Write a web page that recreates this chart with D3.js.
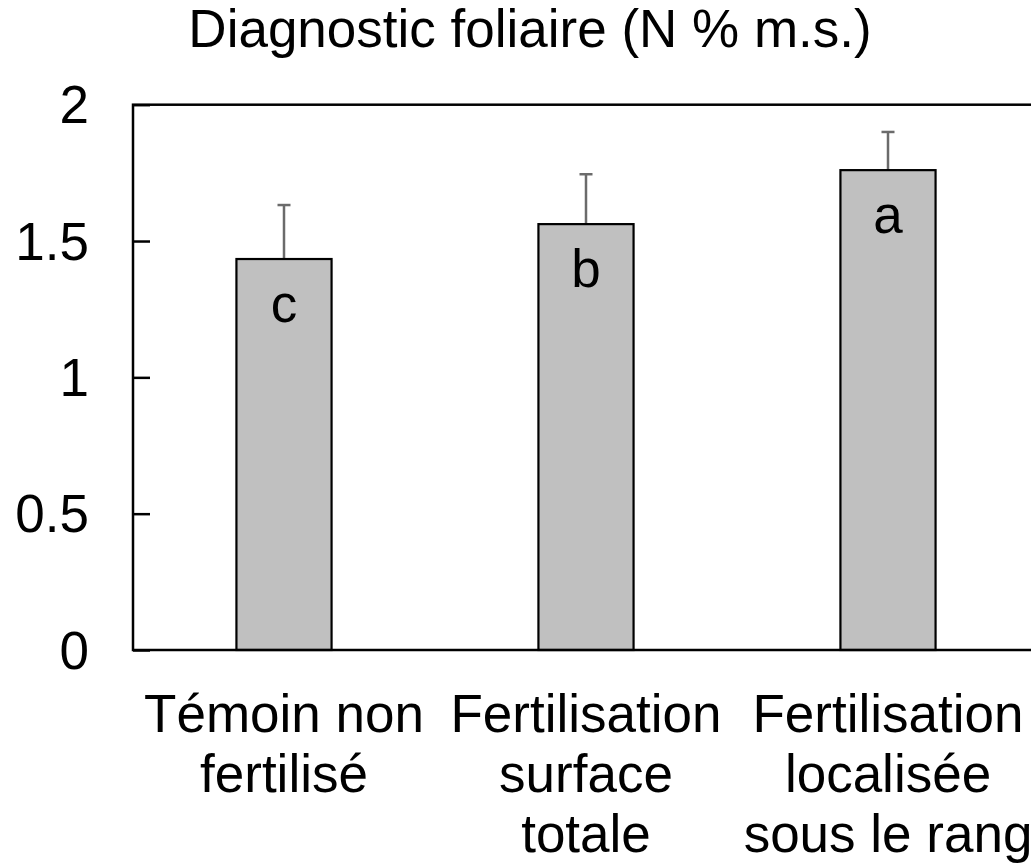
<!DOCTYPE html>
<html>
<head>
<meta charset="utf-8">
<script src="https://cdn.jsdelivr.net/npm/d3@7"></script>
<style>
  html, body { margin: 0; padding: 0; background: #fff; }
  svg text { font-family: "Liberation Sans", Arial, sans-serif; fill: #000; }
</style>
</head>
<body>
<div id="chart"></div>
<script>
// data
var categories = [
  ["Témoin non", "fertilisé"],
  ["Fertilisation", "surface", "totale"],
  ["Fertilisation", "localisée", "sous le rang"]
];
var means = [1.434, 1.562, 1.760];
var errors = [0.198, 0.183, 0.140];
var groups = ["c", "b", "a"];
var yTicks = [0, 0.5, 1, 1.5, 2];

var W = 1031, H = 863;
var FS = 53; // font size for everything

var svg = d3.select("#chart").append("svg")
    .attr("width", W).attr("height", H);

var x = d3.scaleBand()
    .domain(d3.range(categories.length))
    .range([133, 1039])
    .paddingInner(0.685)
    .paddingOuter(0.3425);

var y = d3.scaleLinear().domain([0, 2]).range([650, 104.7]);

// title
svg.append("text")
    .attr("x", 530).attr("y", 47)
    .attr("text-anchor", "middle")
    .style("font-size", FS + "px")
    .text("Diagnostic foliaire (N % m.s.)");

// error bars (drawn first, bar covers lower half)
var eb = svg.append("g").attr("stroke", "#6b6b6b").attr("stroke-width", 2.5);
means.forEach(function(m, i){
    var cx = x(i) + x.bandwidth()/2;
    eb.append("line").attr("x1", cx).attr("x2", cx)
        .attr("y1", y(m)).attr("y2", y(m + errors[i]));
    eb.append("line").attr("x1", cx - 6.5).attr("x2", cx + 6.5)
        .attr("y1", y(m + errors[i])).attr("y2", y(m + errors[i]));
});

// bars
svg.append("g").selectAll("rect")
    .data(means)
    .enter().append("rect")
    .attr("x", function(d, i){ return x(i); })
    .attr("y", function(d){ return y(d); })
    .attr("width", x.bandwidth())
    .attr("height", function(d){ return y(0) - y(d); })
    .attr("fill", "#c0c0c0")
    .attr("stroke", "#000")
    .attr("stroke-width", 2.2);

// group letters
svg.append("g").selectAll("text")
    .data(groups)
    .enter().append("text")
    .attr("x", function(d, i){ return x(i) + x.bandwidth()/2; })
    .attr("y", function(d, i){ return y(means[i]) + 63; })
    .attr("text-anchor", "middle")
    .style("font-size", FS + "px")
    .text(function(d){ return d; });

// frame
svg.append("rect")
    .attr("x", 133).attr("y", y(2))
    .attr("width", 1039 - 133).attr("height", y(0) - y(2))
    .attr("fill", "none").attr("stroke", "#000").attr("stroke-width", 2.5);

// y axis: inner ticks, labels left
var yAxis = d3.axisRight(y).tickValues(yTicks).tickSize(17).tickFormat("");
var ya = svg.append("g").attr("transform", "translate(133,0)").call(yAxis);
ya.select(".domain").remove();
ya.selectAll(".tick line").attr("stroke", "#000").attr("stroke-width", 2.5);

svg.append("g").selectAll("text")
    .data(yTicks)
    .enter().append("text")
    .attr("x", 89)
    .attr("y", function(d){ return y(d); })
    .attr("dy", "0.35em")
    .attr("text-anchor", "end")
    .style("font-size", FS + "px")
    .text(function(d){ return d; });

// x labels, several lines each
categories.forEach(function(lines, i){
    var t = svg.append("text")
        .attr("text-anchor", "middle")
        .style("font-size", FS + "px");
    lines.forEach(function(l, j){
        t.append("tspan")
            .attr("x", x(i) + x.bandwidth()/2)
            .attr("y", 732 + j*60)
            .text(l);
    });
});
</script>
</body>
</html>
